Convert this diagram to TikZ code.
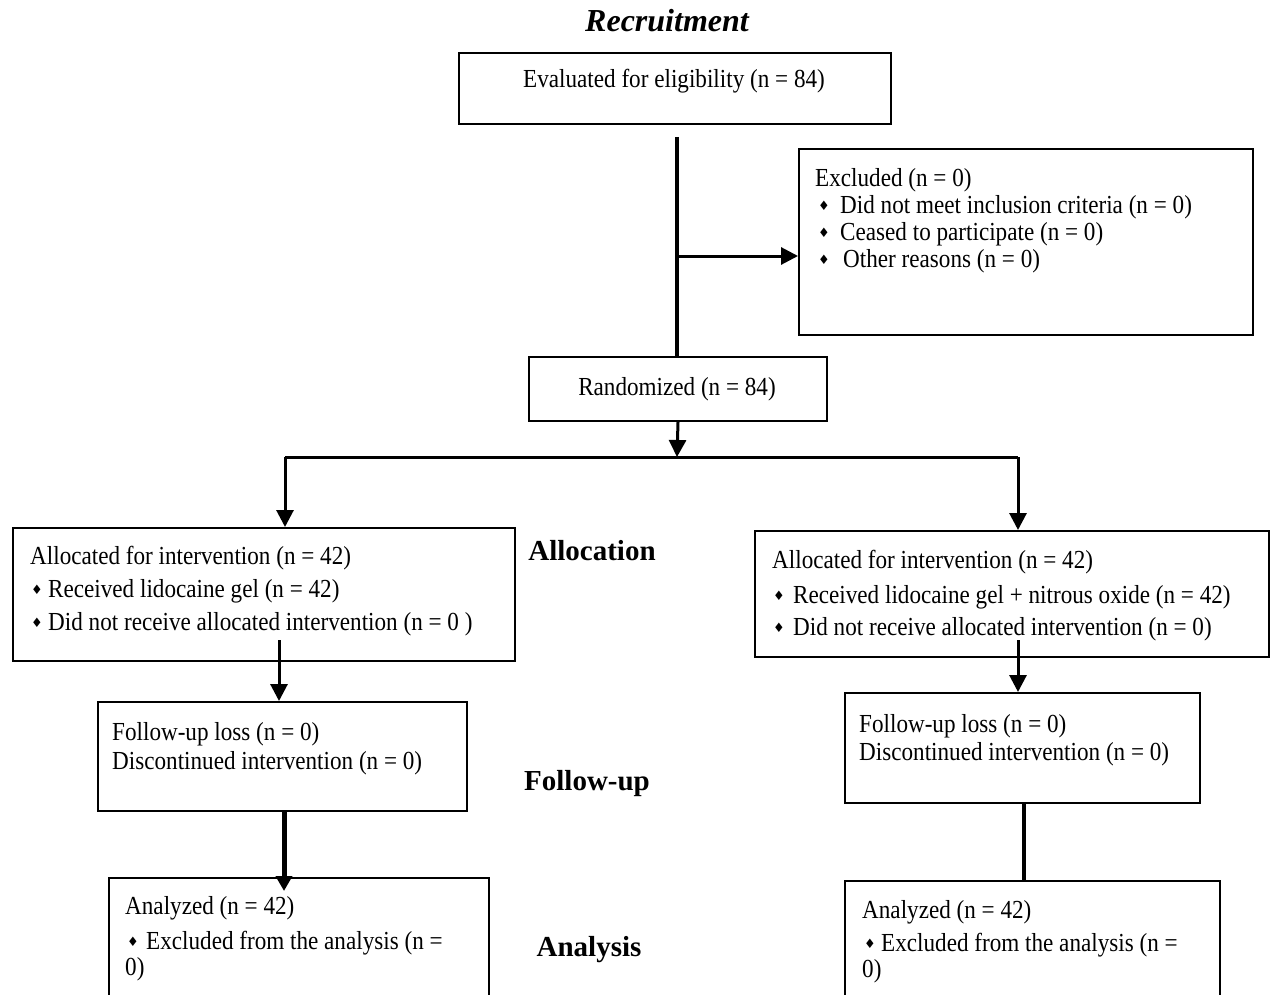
\documentclass[tikz,border=0pt]{standalone}
\usepackage{fontspec}
\setmainfont{Liberation Serif}[FakeStretch=0.89]
\newfontfamily\lblfont{Liberation Serif}
\newfontfamily\symfont{DejaVu Sans}
\usetikzlibrary{arrows.meta}
\newcommand{\bul}{{\symfont\fontsize{13}{13}\selectfont ♦}}
\begin{document}
\begin{tikzpicture}[x=1pt,y=-1pt,
  box/.style={draw,line width=2pt,inner sep=0,anchor=north west},
  txt/.style={anchor=mid west,inner sep=0,yshift=-6pt,font=\fontsize{26}{30}\selectfont},
  ctxt/.style={anchor=mid,inner sep=0,yshift=-6pt,font=\fontsize{26}{30}\selectfont},
  lbl/.style={anchor=mid,inner sep=0,yshift=-8pt,font=\lblfont\bfseries\fontsize{29}{30}\selectfont},
  bulnode/.style={anchor=mid,inner sep=0,yshift=-3pt},
  conn/.style={line width=3pt},
  arr/.style={line width=3pt,-{Triangle[length=17pt,width=17pt]}},
  trunk/.style={line width=4.5pt}]
\useasboundingbox (0,0) rectangle (1271,995);
\clip (0,0) rectangle (1271,995);
\fill[white] (0,0) rectangle (1271,995);

% titles
\node[anchor=mid,inner sep=0,yshift=-8pt,font=\lblfont\bfseries\itshape\fontsize{32}{33}\selectfont] (trec) at (667,21) {Recruitment};
\node[lbl] (talloc) at (592,550) {Allocation};
\node[lbl] (tfoll) at (587,780) {Follow-up};
\node[lbl] (tanal) at (589,946) {Analysis};

% boxes
\node[box,minimum width=432pt,minimum height=71pt] (eval) at (458,52) {};
\node[box,minimum width=454pt,minimum height=186pt] (exc) at (798,148) {};
\node[box,minimum width=298pt,minimum height=64pt] (rand) at (528,356) {};
\node[box,minimum width=502pt,minimum height=133pt] (la) at (12,527) {};
\node[box,minimum width=514pt,minimum height=126pt] (ra) at (754,530) {};
\node[box,minimum width=369pt,minimum height=109pt] (lf) at (97,701) {};
\node[box,minimum width=355pt,minimum height=110pt] (rf) at (844,692) {};
\node[box,minimum width=380pt,minimum height=160pt] (lan) at (108,877) {};
\node[box,minimum width=375pt,minimum height=160pt] (ran) at (844,880) {};

% texts
\node[ctxt] (evalt) at (674,79) {Evaluated for eligibility (n = 84)};
\node[txt] (exc1) at (815,178) {Excluded (n = 0)};
\node[bulnode] (excb2) at (824,205) {\bul};
\node[txt] (exc2) at (840,205) {Did not meet inclusion criteria (n = 0)};
\node[bulnode] (excb3) at (824,232) {\bul};
\node[txt] (exc3) at (840,232) {Ceased to participate (n = 0)};
\node[bulnode] (excb4) at (824,259) {\bul};
\node[txt] (exc4) at (843,259) {Other reasons (n = 0)};
\node[ctxt] (randt) at (677,387) {Randomized (n = 84)};

\node[txt] (la1) at (30,556) {Allocated for intervention (n = 42)};
\node[bulnode] (lab2) at (37,589) {\bul};
\node[txt] (la2) at (48,589) {Received lidocaine gel (n = 42)};
\node[bulnode] (lab3) at (37,622) {\bul};
\node[txt] (la3) at (48,622) {Did not receive allocated intervention (n = 0 )};

\node[txt] (ra1) at (772,560) {Allocated for intervention (n = 42)};
\node[bulnode] (rab2) at (779,595) {\bul};
\node[txt] (ra2) at (793,595) {Received lidocaine gel + nitrous oxide (n = 42)};
\node[bulnode] (rab3) at (779,627) {\bul};
\node[txt] (ra3) at (793,627) {Did not receive allocated intervention (n = 0)};

\node[txt] (lf1) at (112,732) {Follow-up loss (n = 0)};
\node[txt] (lf2) at (112,761) {Discontinued intervention (n = 0)};
\node[txt] (rf1) at (859,724) {Follow-up loss (n = 0)};
\node[txt] (rf2) at (859,752) {Discontinued intervention (n = 0)};

\node[txt] (lan1) at (125,906) {Analyzed (n = 42)};
\node[bulnode] (lanb2) at (133,941) {\bul};
\node[txt] (lan2) at (146,941) {Excluded from the analysis (n =};
\node[txt] (lan3) at (125,967) {0)};
\node[txt] (ran1) at (862,910) {Analyzed (n = 42)};
\node[bulnode] (ranb2) at (870,943) {\bul};
\node[txt] (ran2) at (881,943) {Excluded from the analysis (n =};
\node[txt] (ran3) at (862,969) {0)};

% connectors
\coordinate (t1) at (677,137);
\draw[trunk] (t1) -- (rand.north -| t1);
\coordinate (j1) at (677,256);
\draw[arr] (j1) -- (exc.west |- j1);
\coordinate (split) at (677,457);
\draw[arr] (rand.south) -- (split);
\coordinate (sl) at (285,457);
\coordinate (sr) at (1018,457);
\draw[conn] (sl) -- (sr);
\draw[arr] (sl) -- (sl |- la.north);
\draw[arr] (sr) -- (sr |- ra.north);
\coordinate (a1) at (279,640);
\draw[arr] (a1) -- (a1 |- lf.north);
\coordinate (a2) at (1018,640);
\draw[arr] (a2) -- (a2 |- rf.north);
\coordinate (b1) at (284,811);
\coordinate (b1e) at (284,891);
\draw[line width=5pt,-{Triangle[length=15pt,width=16pt]}] (b1) -- (b1e);
\coordinate (b2) at (1024,802);
\draw[line width=3.5pt] (b2) -- (b2 |- ran.north);
\end{tikzpicture}
\end{document}
